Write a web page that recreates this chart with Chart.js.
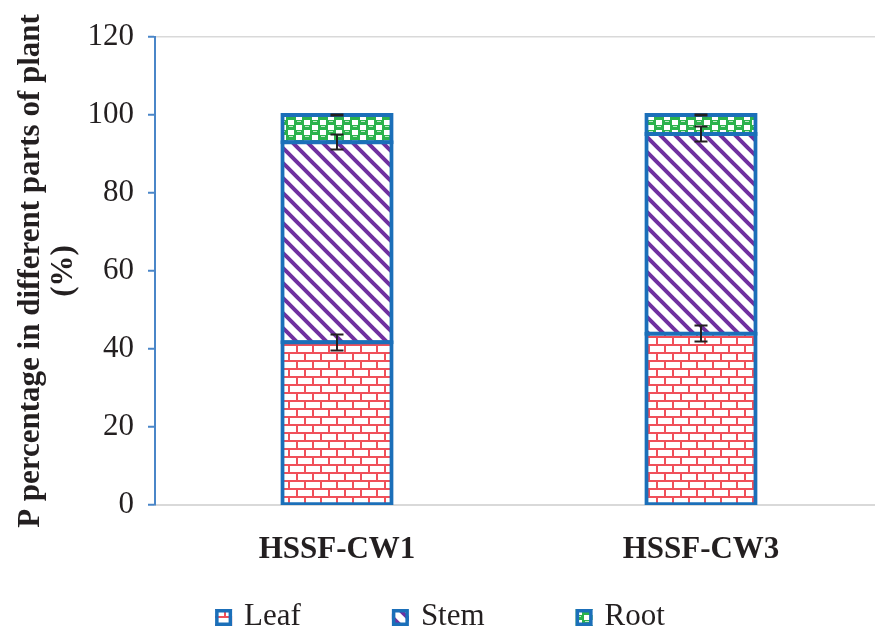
<!DOCTYPE html>
<html>
<head>
<meta charset="utf-8">
<title>P percentage in different parts of plant</title>
<script src="https://cdn.jsdelivr.net/npm/chart.js@4/dist/chart.umd.min.js"></script>
<style>
  html, body { margin: 0; padding: 0; background: #fff; overflow: hidden; }
  canvas { display: block; }
</style>
</head>
<body>
<canvas id="p-chart" width="895" height="634"></canvas>
<script>
'use strict';

var categories = ['HSSF-CW1', 'HSSF-CW3'];
var seriesNames = ['Leaf', 'Stem', 'Root'];
var leafValues = [41.7, 43.9];
var stemValues = [51.3, 51.2];
var rootValues = [7.0, 4.9];
var leafErrors = [2.1, 2.2];
var stemErrors = [2.1, 2.1];
var rootErrors = [0.3, 0.3];
var yTicks = [0, 20, 40, 60, 80, 100, 120];

var SERIF = '"Liberation Serif", "Times New Roman", serif';
var TEXT_COLOR = '#231f20';
var BAR_BORDER = '#1b6fb9';

// small tiles used as fill patterns (like the hatched fills of the original)
function makePattern(w, h, draw) {
  var tile = document.createElement('canvas');
  tile.width = w;
  tile.height = h;
  var g = tile.getContext('2d');
  g.fillStyle = '#ffffff';
  g.fillRect(0, 0, w, h);
  draw(g, w, h);
  return g.createPattern(tile, 'repeat');
}

var brickPattern = makePattern(16, 16, function(g, w, h) {
  g.strokeStyle = '#f0505a';
  g.lineWidth = 2;
  g.beginPath();
  g.moveTo(0, 1); g.lineTo(w, 1);
  g.moveTo(0, 9); g.lineTo(w, 9);
  g.moveTo(1, 1); g.lineTo(1, 9);
  g.moveTo(9, 9); g.lineTo(9, h + 1);
  g.stroke();
});

var stripePattern = makePattern(15, 15, function(g, w, h) {
  g.strokeStyle = '#7030a0';
  g.lineWidth = 4;
  g.beginPath();
  for (var k = -1; k <= 1; k++) {
    g.moveTo(k * w - 3, -3);
    g.lineTo(k * w + w + 3, h + 3);
  }
  g.stroke();
});

var checkPattern = makePattern(16, 10, function(g, w, h) {
  g.fillStyle = '#2bb24c';
  g.fillRect(0, 0, w, h);
  g.fillStyle = '#ffffff';
  g.fillRect(0, 0, 6, 5);
  g.fillRect(8, 5, 6, 5);
  g.fillStyle = '#bfe8c8';
  g.fillRect(9, 1, 4, 1);
  g.fillRect(1, 6, 4, 1);
});

var errorBarsPlugin = {
  id: 'errorBars',
  afterDatasetsDraw: function(chart) {
    var ctx = chart.ctx;
    var yScale = chart.scales.y;
    var datasets = chart.data.datasets;
    ctx.save();
    ctx.strokeStyle = TEXT_COLOR;
    ctx.lineWidth = 2;
    datasets.forEach(function(ds, i) {
      var meta = chart.getDatasetMeta(i);
      meta.data.forEach(function(bar, j) {
        var top = 0;
        for (var k = 0; k <= i; k++) {
          top += datasets[k].data[j];
        }
        var err = ds.errors[j];
        var yHi = Math.round(yScale.getPixelForValue(top + err)) + 0.5;
        var yLo = Math.round(yScale.getPixelForValue(top - err)) - 0.5;
        var x = Math.round(bar.x);
        var cap = 6.5;
        ctx.beginPath();
        ctx.moveTo(x, yHi); ctx.lineTo(x, yLo);
        ctx.moveTo(x - cap, yHi); ctx.lineTo(x + cap, yHi);
        ctx.moveTo(x - cap, yLo); ctx.lineTo(x + cap, yLo);
        ctx.stroke();
      });
    });
    ctx.restore();
  }
};

// legend drawn by hand: the built-in one can't space items this wide
var bottomLegendPlugin = {
  id: 'bottomLegend',
  afterDraw: function(chart) {
    var ctx = chart.ctx;
    var box = 17, gap = 12, spacing = 91;
    var centerX = 440;
    var baseline = chart.height - 9;
    var boxTop = chart.height - 25;
    var datasets = chart.data.datasets;

    ctx.save();
    ctx.font = '31px ' + SERIF;
    var widths = datasets.map(function(ds) {
      return box + gap + ctx.measureText(ds.label).width;
    });
    var total = widths.reduce(function(a, b) { return a + b; }, 0) + spacing * (widths.length - 1);
    var x = centerX - total / 2;

    datasets.forEach(function(ds, i) {
      ctx.fillStyle = ds.backgroundColor;
      ctx.fillRect(x, boxTop, box, box);
      ctx.strokeStyle = ds.borderColor;
      ctx.lineWidth = 3.5;
      ctx.strokeRect(x + 1.75, boxTop + 1.75, box - 3.5, box - 3.5);
      ctx.fillStyle = TEXT_COLOR;
      ctx.textAlign = 'left';
      ctx.textBaseline = 'alphabetic';
      ctx.fillText(ds.label, x + box + gap, baseline);
      x += widths[i] + spacing;
    });
    ctx.restore();
  }
};

function barDataset(label, values, errors, fill) {
  return {
    label: label,
    data: values,
    errors: errors,
    backgroundColor: fill,
    borderColor: BAR_BORDER,
    borderWidth: 4,
    inflateAmount: 2,
    borderSkipped: false,
    barPercentage: 0.30,
    categoryPercentage: 1
  };
}

var ctx = document.getElementById('p-chart').getContext('2d');
var pChart = new Chart(ctx, {
  type: 'bar',
  data: {
    labels: categories,
    datasets: [
      barDataset(seriesNames[0], leafValues, leafErrors, brickPattern),
      barDataset(seriesNames[1], stemValues, stemErrors, stripePattern),
      barDataset(seriesNames[2], rootValues, rootErrors, checkPattern)
    ]
  },
  options: {
    responsive: false,
    animation: false,
    devicePixelRatio: 1,
    layout: {
      padding: { top: 37, right: 12, bottom: 59, left: 0 }
    },
    plugins: {
      legend: { display: false },
      tooltip: { enabled: false }
    },
    scales: {
      x: {
        stacked: true,
        grid: { display: false, drawTicks: false, tickLength: 0 },
        border: { display: true, color: '#d9d9d9', width: 2 },
        ticks: {
          color: TEXT_COLOR,
          padding: 26,
          font: { family: SERIF, size: 31, weight: 'bold' }
        },
        afterFit: function(scale) {
          scale.height = 70;
        }
      },
      y: {
        stacked: true,
        min: 0,
        max: 120,
        afterBuildTicks: function(scale) {
          scale.ticks = yTicks.map(function(v) { return { value: v }; });
        },
        afterFit: function(scale) {
          scale.width = 155;
        },
        grid: {
          drawOnChartArea: true,
          drawTicks: true,
          tickLength: 7,
          lineWidth: 1.5,
          tickWidth: 2,
          tickColor: '#4a86c8',
          color: function(c) {
            return c.tick && c.tick.value === 120 ? '#d9d9d9' : 'rgba(0,0,0,0)';
          }
        },
        border: { display: true, color: '#4a86c8', width: 2 },
        ticks: {
          color: TEXT_COLOR,
          padding: 14,
          font: { family: SERIF, size: 31 }
        },
        title: {
          display: true,
          text: ['P percentage in different parts of plant', '(%)'],
          color: TEXT_COLOR,
          padding: { top: 15, bottom: 0 },
          font: { family: SERIF, size: 31, weight: 'bold', lineHeight: 1.05 }
        }
      }
    }
  },
  plugins: [errorBarsPlugin, bottomLegendPlugin]
});
</script>
</body>
</html>
